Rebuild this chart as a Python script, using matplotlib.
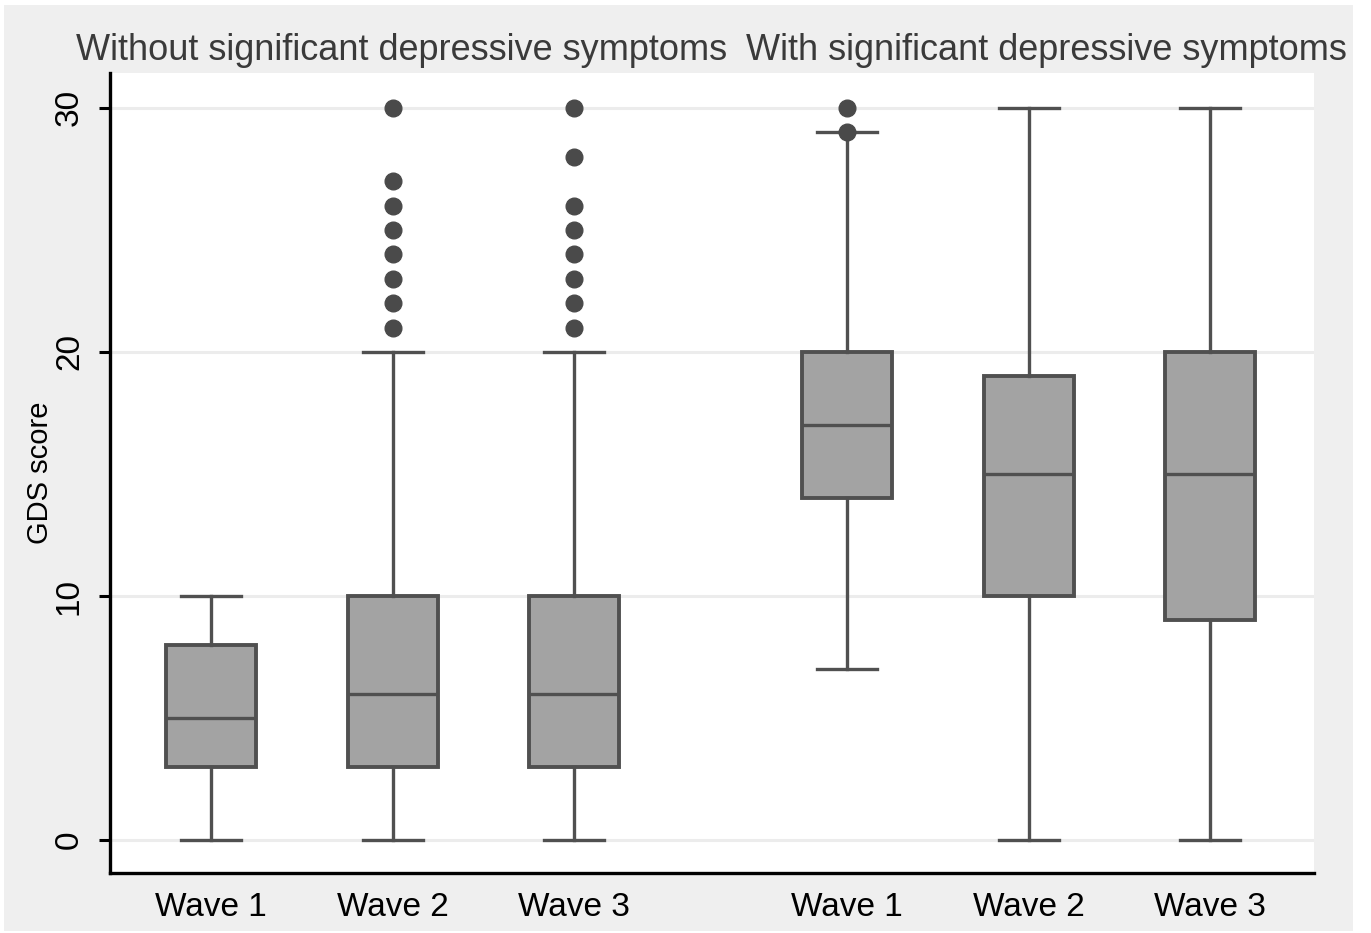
import matplotlib
matplotlib.use("Agg")
import matplotlib.pyplot as plt
from matplotlib.patches import Rectangle
from matplotlib.transforms import blended_transform_factory

plt.rcParams['font.family'] = ['Liberation Sans', 'DejaVu Sans']

# data
groups = ["Without significant depressive symptoms", "With significant depressive symptoms"]
waves = ["Wave 1", "Wave 2", "Wave 3", "Wave 1", "Wave 2", "Wave 3"]
q1 = [3, 3, 3, 14, 10, 9]
med = [5, 6, 6, 17, 15, 15]
q3 = [8, 10, 10, 20, 19, 20]
whislo = [0, 0, 0, 7, 0, 0]
whishi = [10, 20, 20, 29, 30, 30]
outliers = [
    [],
    [21, 22, 23, 24, 25, 26, 27, 30],
    [21, 22, 23, 24, 25, 26, 28, 30],
    [29, 30],
    [],
    [],
]
positions = [0, 1, 2, 3.5, 4.5, 5.5]
group_centers = [1.05, 4.6]

box_fill = "#a3a3a3"
line_col = "#505050"

fig = plt.figure(figsize=(13.71, 9.33), dpi=100, facecolor="white")
fig.patches.append(Rectangle((4 / 1371, 1 - 931 / 933), 1349 / 1371, 926 / 933,
                             transform=fig.transFigure, facecolor="#efefef",
                             edgecolor="none", zorder=-10))

ax = fig.add_axes([110 / 1371, 1 - 873 / 933, (1314 - 110) / 1371, (873 - 73) / 933])
ax.set_facecolor("white")

stats = []
for i in range(len(waves)):
    stats.append(dict(q1=q1[i], med=med[i], q3=q3[i], whislo=whislo[i],
                      whishi=whishi[i], fliers=outliers[i], label=waves[i]))

ax.bxp(stats, positions=positions, widths=0.495, patch_artist=True,
       showfliers=True, capwidths=0.33,
       boxprops=dict(facecolor=box_fill, edgecolor=line_col, linewidth=2.8),
       medianprops=dict(color=line_col, linewidth=2.4),
       whiskerprops=dict(color=line_col, linewidth=2.4),
       capprops=dict(color=line_col, linewidth=2.4),
       flierprops=dict(marker="o", markerfacecolor="#4a4a4a",
                       markeredgecolor="#4a4a4a", markersize=12))

ax.set_xlim(-0.555, 6.07)
ax.set_ylim(-1.35, 31.43)
ax.set_yticks([0, 10, 20, 30])
ax.set_yticklabels(["0", "10", "20", "30"], rotation=90, va="center", fontsize=24)
ax.set_xticks(positions)
ax.set_xticklabels(waves, fontsize=24)
ax.tick_params(axis="x", length=0, pad=14)
ax.tick_params(axis="y", length=8, width=2.2, pad=10)
ax.yaxis.grid(True, color="#ececec", linewidth=2.2)
ax.set_axisbelow(True)
for s in ["top", "right"]:
    ax.spines[s].set_visible(False)
for s in ["left", "bottom"]:
    ax.spines[s].set_linewidth(2.4)
    ax.spines[s].set_color("black")
ax.set_ylabel("GDS score", fontsize=21, labelpad=0)

trans = blended_transform_factory(ax.transData, fig.transFigure)
for name, xc in zip(groups, group_centers):
    ax.text(xc, 1 - 50 / 933, name, transform=trans, ha="center", va="center",
            fontsize=26, color="#3a3a3a")

fig.savefig("out.png", dpi=100, facecolor="white")
